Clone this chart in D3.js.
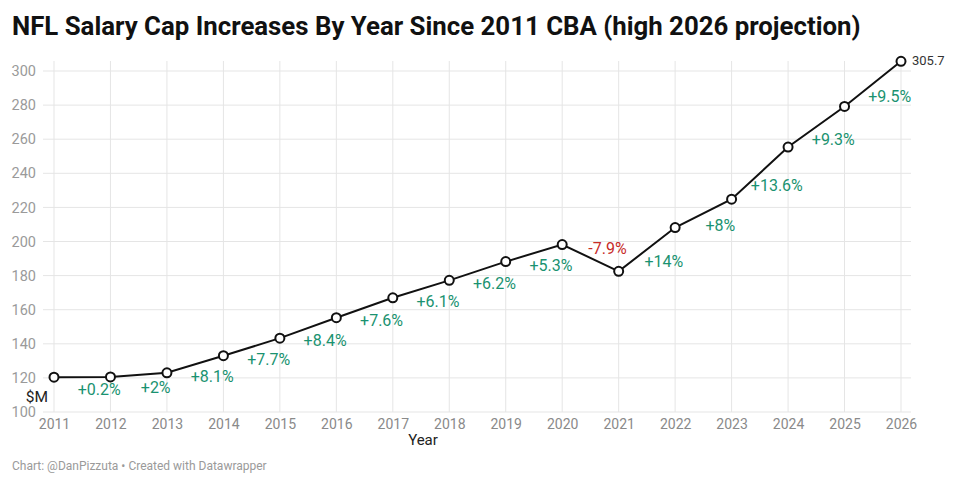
<!DOCTYPE html>
<html>
<head>
<meta charset="utf-8">
<script src="https://cdn.jsdelivr.net/npm/d3@7"></script>
<style>
  body { margin: 0; background: #fff; font-family: Roboto, "Noto Sans", sans-serif; }
  svg text { font-family: Roboto, "Noto Sans", sans-serif; }
</style>
</head>
<body>
<svg id="chart" width="960" height="486"></svg>
<script>
// Data
var years = [2011, 2012, 2013, 2014, 2015, 2016, 2017, 2018, 2019, 2020, 2021, 2022, 2023, 2024, 2025, 2026];
var capValues = [120.4, 120.6, 123.0, 133.0, 143.3, 155.3, 167.0, 177.2, 188.2, 198.2, 182.5, 208.2, 224.8, 255.4, 279.2, 305.7];
var changeLabels = ["+0.2%", "+2%", "+8.1%", "+7.7%", "+8.4%", "+7.6%", "+6.1%", "+6.2%", "+5.3%", "-7.9%", "+14%", "+8%", "+13.6%", "+9.3%", "+9.5%"];
var yTicks = [100, 120, 140, 160, 180, 200, 220, 240, 260, 280, 300];

function drawChart() {
    const svg = d3.select("#chart");

    const x = d3.scaleLinear().domain([2011, 2026]).range([54, 901]);
    const y = d3.scaleLinear().domain([100, 300]).range([412, 71]);

    // title
    svg.append("text")
        .attr("x", 12)
        .attr("y", 35)
        .attr("font-size", 25.8)
        .attr("font-weight", 700)
        .attr("fill", "#111")
        .text("NFL Salary Cap Increases By Year Since 2011 CBA (high 2026 projection)");

    // grid
    const grid = svg.append("g");
    grid.selectAll("line.h")
        .data(yTicks)
        .enter()
        .append("line")
        .attr("class", "h")
        .attr("x1", 43)
        .attr("x2", 911)
        .attr("y1", (d) => y(d))
        .attr("y2", (d) => y(d))
        .attr("stroke", "#e5e5e5")
        .attr("stroke-width", 1);
    grid.selectAll("line.v")
        .data(years)
        .enter()
        .append("line")
        .attr("class", "v")
        .attr("x1", (d) => x(d))
        .attr("x2", (d) => x(d))
        .attr("y1", 61)
        .attr("y2", 412)
        .attr("stroke", "#e5e5e5")
        .attr("stroke-width", 1);

    // y axis labels
    svg.append("g")
        .attr("transform", "translate(36,0)")
        .call(d3.axisLeft(y).tickValues(yTicks).tickSize(0).tickPadding(0))
        .call((g) => g.select(".domain").remove())
        .selectAll("text")
        .attr("font-size", 14.5)
        .attr("fill", "#9a9a9a");

    // x axis labels
    svg.append("g")
        .attr("transform", "translate(0,419)")
        .call(d3.axisBottom(x).tickValues(years).tickFormat(d3.format("d")).tickSize(0).tickPadding(0))
        .call((g) => g.select(".domain").remove())
        .selectAll("text")
        .attr("font-size", 14)
        .attr("fill", "#8a8a8a");

    svg.append("text")
        .attr("x", 423)
        .attr("y", 445)
        .attr("text-anchor", "middle")
        .attr("font-size", 15)
        .attr("fill", "#222")
        .text("Year");

    svg.append("text")
        .attr("x", 48)
        .attr("y", 402)
        .attr("text-anchor", "end")
        .attr("font-size", 15.5)
        .attr("fill", "#222")
        .text("$M");

    // line
    const points = years.map((yr, i) => [yr, capValues[i]]);
    const line = d3.line().x((d) => x(d[0])).y((d) => y(d[1]));
    svg.append("path")
        .datum(points)
        .attr("d", line)
        .attr("fill", "none")
        .attr("stroke", "#111")
        .attr("stroke-width", 2);

    svg.selectAll("circle.pt")
        .data(points)
        .enter()
        .append("circle")
        .attr("class", "pt")
        .attr("cx", (d) => x(d[0]))
        .attr("cy", (d) => y(d[1]))
        .attr("r", 4.5)
        .attr("fill", "#fff")
        .attr("stroke", "#111")
        .attr("stroke-width", 2);

    // change labels along each segment
    svg.selectAll("text.chg")
        .data(changeLabels)
        .enter()
        .append("text")
        .attr("class", "chg")
        .attr("x", (d, i) => (x(years[i]) + x(years[i + 1])) / 2 + 17)
        .attr("y", (d, i) => {
            const mid = y((capValues[i] + capValues[i + 1]) / 2);
            return d[0] === "-" ? mid - 4 : mid + 18;
        })
        .attr("text-anchor", "middle")
        .attr("font-size", 16)
        .attr("fill", (d) => (d[0] === "-" ? "#c72b28" : "#1a9270"))
        .text((d) => d);

    // last value label
    const last = points[points.length - 1];
    svg.append("text")
        .attr("x", x(last[0]) + 11)
        .attr("y", y(last[1]) + 4)
        .attr("font-size", 13)
        .attr("fill", "#333")
        .text(last[1]);

    // footer
    svg.append("text")
        .attr("x", 12)
        .attr("y", 470)
        .attr("font-size", 12)
        .attr("fill", "#9a9a9a")
        .text("Chart: @DanPizzuta \u2022 Created with Datawrapper");
}

drawChart();
</script>
</body>
</html>
